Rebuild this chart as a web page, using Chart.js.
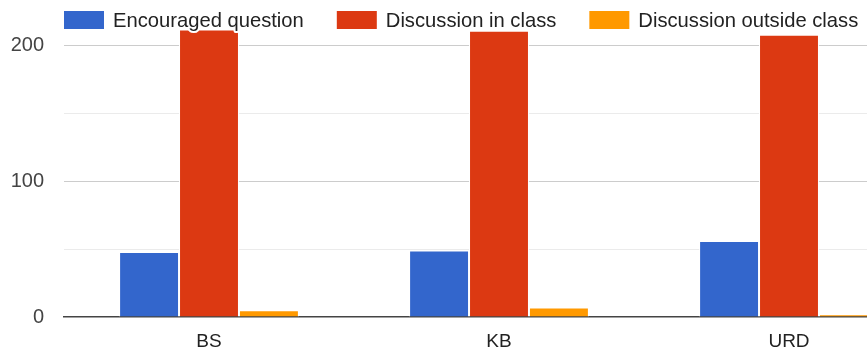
<!DOCTYPE html>
<html>
<head>
<meta charset="utf-8">
<script src="https://cdn.jsdelivr.net/npm/chart.js@4/dist/chart.umd.min.js"></script>
<style>
  html, body { margin: 0; padding: 0; background: #fff; overflow: hidden; }
  #wrap { width: 934px; height: 353px; }
</style>
</head>
<body>
<div id="wrap"><canvas id="bars" width="934" height="353"></canvas></div>
<script>
const categories = ['BS', 'KB', 'URD'];
const encouraged = [48, 49, 56];
const inClass = [212, 211, 208];
const outside = [5, 7, 2];
const seriesNames = ['Encouraged question', 'Discussion in class', 'Discussion outside class'];
const seriesColors = ['#3366cc', '#dc3912', '#ff9900'];
const yTicks = [0, 50, 100, 150, 200];

const FONT = '"Liberation Sans", Arial, sans-serif';

// legend drawn over the plot, text gets a white halo like the original
const overlayLegend = {
  id: 'overlayLegend',
  afterDatasetsDraw(chart) {
    const ctx = chart.ctx;
    ctx.save();
    ctx.font = '20.2px ' + FONT;
    ctx.textBaseline = 'alphabetic';
    let x = chart.chartArea.left;
    seriesNames.forEach((name, i) => {
      ctx.fillStyle = seriesColors[i];
      ctx.fillRect(x, 11, 40, 18);
      const tx = x + 49;
      ctx.lineJoin = 'round';
      ctx.strokeStyle = '#fff';
      ctx.lineWidth = 4;
      ctx.strokeText(name, tx, 27);
      ctx.fillStyle = '#222';
      ctx.fillText(name, tx, 27);
      x = tx + ctx.measureText(name).width + 33;
    });
    ctx.restore();
  }
};

const datasets = [encouraged, inClass, outside].map((vals, i) => ({
  label: seriesNames[i],
  data: vals,
  backgroundColor: seriesColors[i],
  borderColor: '#ffffff',
  borderWidth: 1,
  borderSkipped: 'bottom',
  categoryPercentage: 0.62,
  barPercentage: 1.0
}));

new Chart(document.getElementById('bars'), {
  type: 'bar',
  data: { labels: categories, datasets },
  options: {
    responsive: false,
    animation: false,
    layout: { padding: { top: 5, right: 0, left: 0, bottom: 0 } },
    plugins: {
      legend: { display: false },
      tooltip: { enabled: false }
    },
    scales: {
      x: {
        grid: { display: false, drawTicks: false },
        border: { display: true, color: '#444', width: 1.5 },
        ticks: { color: '#222', font: { family: FONT, size: 19 }, padding: 13 },
        afterFit(scale) { scale.height = 36; scale.paddingLeft = 0; scale.paddingRight = 0; }
      },
      y: {
        min: 0,
        max: 230,
        afterBuildTicks(scale) { scale.ticks = yTicks.map(v => ({ value: v })); },
        afterFit(scale) { scale.width = 64; scale.paddingTop = 0; scale.paddingBottom = 0; },
        border: { display: false },
        grid: {
          drawTicks: false,
          color: c => c.tick.value === 0 ? 'rgba(0,0,0,0)' : (c.tick.value % 100 === 0 ? '#cccccc' : '#ebebeb'),
          lineWidth: 1
        },
        ticks: {
          color: '#444',
          padding: 20,
          font: { family: FONT, size: 20 },
          callback: v => (v % 100 === 0 ? v : '')
        }
      }
    }
  },
  plugins: [overlayLegend]
});
</script>
</body>
</html>
